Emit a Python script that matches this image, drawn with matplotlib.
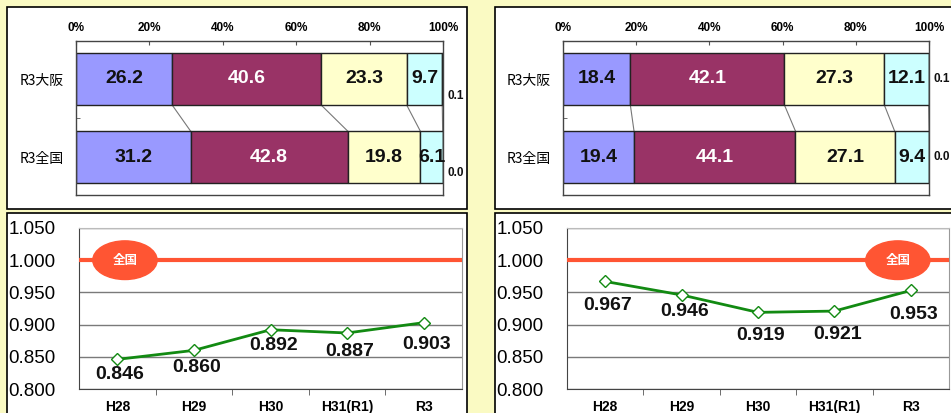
import matplotlib
matplotlib.use('Agg')
import matplotlib.pyplot as plt
from matplotlib.patches import Rectangle, Ellipse

plt.rcParams['font.family'] = ['Liberation Sans', 'Noto Sans CJK JP', 'DejaVu Sans']

# stacked bar data (percent)
bar_rows = ['R3大阪', 'R3全国']
bar_colors = ['#9999FF', '#993366', '#FFFFCC', '#CCFFFF', '#FFFFFF']
left_osaka = [26.2, 40.6, 23.3, 9.7, 0.1]
left_japan = [31.2, 42.8, 19.8, 6.1, 0.0]
right_osaka = [18.4, 42.1, 27.3, 12.1, 0.1]
right_japan = [19.4, 44.1, 27.1, 9.4, 0.0]
pct_ticks = [0, 20, 40, 60, 80, 100]

# ratio line data
years = ['H28', 'H29', 'H30', 'H31(R1)', 'R3']
left_ratio = [0.846, 0.860, 0.892, 0.887, 0.903]
right_ratio = [0.967, 0.946, 0.919, 0.921, 0.953]
national = 1.0
ratio_ticks = [0.800, 0.850, 0.900, 0.950, 1.000, 1.050]

BG = '#FAFAC3'
RED = '#FF5533'
GREEN = '#128A12'

W, H = 951, 413
fig = plt.figure(figsize=(W / 100, H / 100), dpi=100)
fig.patch.set_facecolor(BG)


def px_box(x0, y0, x1, y1):
    # pixel box (top-left origin) -> figure fraction rect
    return [x0 / W, 1 - y1 / H, (x1 - x0) / W, (y1 - y0) / H]


def panel(x0, y0, x1, y1):
    r = px_box(x0, y0, x1, y1)
    fig.patches.append(Rectangle((r[0], r[1]), r[2], r[3], transform=fig.transFigure,
                                 facecolor='white', edgecolor='black', lw=1.2, zorder=-1))


panel(7, 7, 467, 209)
panel(495, 7, 956, 209)
panel(7, 213, 467, 420)
panel(495, 213, 956, 420)


def draw_bars(ax, osaka, japan, small_dy):
    rows = [osaka, japan]
    ypos = [1, 0]
    hb = 0.667
    for vals, y in zip(rows, ypos):
        left = 0
        for i, v in enumerate(vals):
            ax.barh(y, v, left=left, height=hb, color=bar_colors[i],
                    edgecolor='#222222', linewidth=1, zorder=2)
            if i < 4:
                tc = 'white' if i == 1 else '#111111'
                ax.text(left + v / 2, y, f'{v:.1f}', ha='center', va='center',
                        fontsize=14, fontweight='bold', color=tc, zorder=3)
            left += v
        ax.text(101.2, y + small_dy[0 if y == 1 else 1], f'{vals[4]:.1f}', ha='left', va='center',
                fontsize=8.5, fontweight='bold', color='#111111', clip_on=False)
    # connector lines between the two bars
    c1 = 0
    c2 = 0
    for a, b in zip(osaka[:4], japan[:4]):
        c1 += a
        c2 += b
        ax.plot([c1, c2], [1 - hb / 2, hb / 2], color='#777777', lw=0.8, zorder=1)

    ax.set_xlim(0, 100)
    ax.set_ylim(-0.487, 1.487)
    ax.xaxis.tick_top()
    ax.set_xticks(pct_ticks)
    ax.set_xticklabels([f'{t}%' for t in pct_ticks], fontsize=8.5, fontweight='bold')
    ax.tick_params(axis='x', direction='in', length=3, pad=5, color='#555555')
    ax.set_yticks([1, 0])
    ax.set_yticklabels(bar_rows, fontsize=10, family=['Noto Sans CJK JP'])
    ax.tick_params(axis='y', length=0, pad=9)
    ax.set_yticks([0.5], minor=True)
    ax.tick_params(axis='y', which='minor', direction='in', length=3, color='#555555')
    for s in ax.spines.values():
        s.set_color('#444444')
        s.set_linewidth(1)
    ax.set_facecolor('white')


def draw_line(ax, vals, ell_x, dy):
    x = list(range(len(years)))
    ax.axhline(national, color=RED, lw=3, zorder=3)
    ax.plot(x, vals, color=GREEN, lw=2, marker='D', ms=6, mfc='white',
            mec=GREEN, mew=1.0, zorder=4)
    for xi, v, d in zip(x, vals, dy):
        ax.annotate(f'{v:.3f}', (xi, v), xytext=(2, d), textcoords='offset points',
                    ha='center', va='center', fontsize=14, fontweight='bold', color='#111111', zorder=5)
    ax.add_patch(Ellipse((ell_x, national), 0.84, 0.06, color=RED, zorder=5))
    ax.text(ell_x, national, '全国', color='white', ha='center', va='center',
            fontsize=9, fontweight='bold', family=['Noto Sans CJK JP'], zorder=6)
    ax.set_xlim(-0.5, 4.5)
    ax.set_ylim(0.8, 1.05)
    ax.set_yticks(ratio_ticks)
    ax.set_yticklabels([f'{t:.3f}' for t in ratio_ticks], fontsize=13.5)
    ax.tick_params(axis='y', length=0, pad=17)
    ax.yaxis.grid(True, color='#7a7a7a', lw=1)
    ax.set_axisbelow(True)
    ax.set_xticks(x)
    ax.set_xticklabels(years, fontsize=10, fontweight='bold')
    ax.tick_params(axis='x', which='major', length=0, pad=8)
    ax.set_xticks([0.5, 1.5, 2.5, 3.5], minor=True)
    ax.tick_params(axis='x', which='minor', direction='out', length=4, color='#555555')
    ax.spines['left'].set_color('#444444')
    ax.spines['bottom'].set_color('#444444')
    ax.spines['top'].set_color('#bbbbbb')
    ax.spines['right'].set_color('#999999')
    ax.set_facecolor('white')


ax1 = fig.add_axes(px_box(76, 41, 443, 195))
draw_bars(ax1, left_osaka, left_japan, [-0.22, -0.2])
ax2 = fig.add_axes(px_box(563, 41, 929, 195))
draw_bars(ax2, right_osaka, right_japan, [0.0, 0.0])

ax3 = fig.add_axes(px_box(79, 228, 462, 389))
draw_line(ax3, left_ratio, 0.10, [-11, -12, -11, -13, -16])
ax4 = fig.add_axes(px_box(567, 228, 949, 389))
draw_line(ax4, right_ratio, 3.83, [-17, -12, -17, -17, -17])

fig.savefig('out.png', dpi=100, facecolor=BG)
